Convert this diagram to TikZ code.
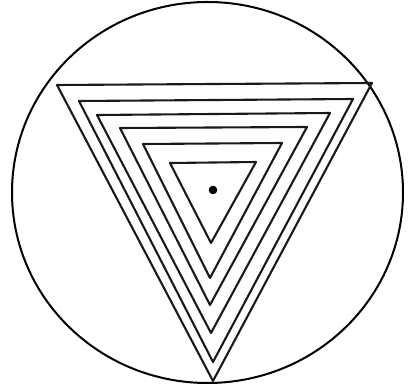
\documentclass[tikz,border=0pt]{standalone}
\begin{document}
\begin{tikzpicture}[x=1pt,y=-1pt,line join=round,
  tri/.style={draw=black!90,line width=2.1pt}]
\useasboundingbox (0,0) rectangle (412,387);
\draw[line width=2pt] (207.5,192.5) ellipse [x radius=195.5, y radius=190.5];
\draw[tri] (57,85) -- (372,83) -- (213,381) -- cycle;
\draw[tri] (79,101) -- (353,99) -- (213,362) -- cycle;
\draw[tri] (97,115) -- (330,113) -- (211,333) -- cycle;
\draw[tri] (120,128) -- (307,127) -- (210,305) -- cycle;
\draw[tri] (143,144) -- (282,143) -- (210,278) -- cycle;
\draw[tri] (170,163) -- (256,162) -- (211,243) -- cycle;
\fill (213,190) circle (4.3);
\end{tikzpicture}
\end{document}
